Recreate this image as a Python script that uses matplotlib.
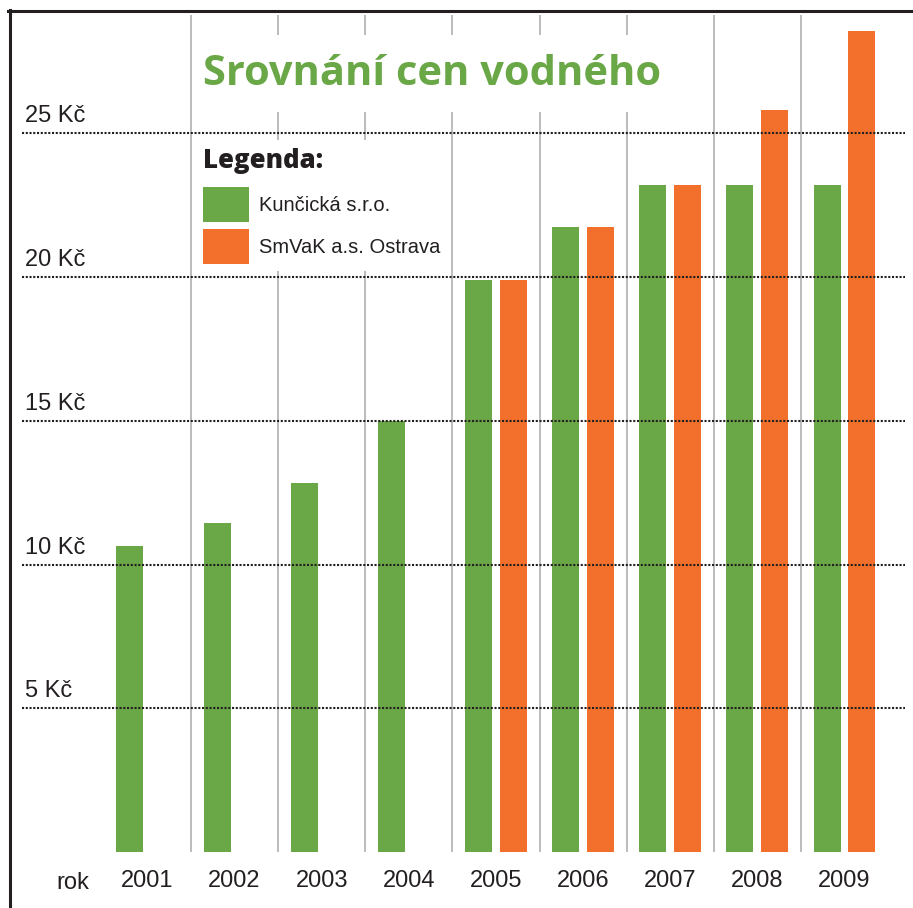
import numpy as np
import matplotlib.pyplot as plt
from matplotlib.lines import Line2D
from matplotlib.patches import Rectangle

# Data (Kč per m3)
years = ['2001', '2002', '2003', '2004', '2005', '2006', '2007', '2008', '2009']
kuncicka = [10.65, 11.45, 12.85, 15.0, 19.9, 21.75, 23.2, 23.2, 23.2]
smvak = [np.nan, np.nan, np.nan, np.nan, 19.9, 21.75, 23.2, 25.8, 28.55]
ytick_values = [5, 10, 15, 20, 25]
ytick_labels = ['5 Kč', '10 Kč', '15 Kč', '20 Kč', '25 Kč']

green = '#6aa746'
orange = '#f2702b'
dark = '#231f20'
W, H = 913, 908

plt.rcParams['font.family'] = ['Liberation Sans', 'DejaVu Sans']

fig = plt.figure(figsize=(W / 100, H / 100), dpi=100)

# axes placed in pixel terms: left frame at 10px, zero line at 852px
ax = fig.add_axes([10 / W, (H - 852) / H, 903 / W, 842 / H])
ax.set_xlim(-1.577, 8.786)
ax.set_ylim(0, 842 / 28.75)
for s in ax.spines.values():
    s.set_visible(False)

x = np.arange(len(years))
b1 = ax.bar(x - 0.2, kuncicka, width=0.31, color=green, label='Kunčická s.r.o.', zorder=2)
mask = ~np.isnan(smvak)
b2 = ax.bar(x[mask] + 0.2, np.array(smvak)[mask], width=0.31, color=orange,
            label='SmVaK a.s. Ostrava', zorder=2)

# gray separators between years
ax.vlines(x[:-1] + 0.5, 0, (852 - 15) / 28.75, color='#aaaaaa', lw=1.1, zorder=1)

# dotted price lines and their labels
for v, lab in zip(ytick_values, ytick_labels):
    ax.axhline(v, xmin=0.0133, xmax=0.991, color=dark, lw=1.5,
               linestyle=(0, (1, 0.8)), zorder=4)
    ax.text(0.0166, v + 0.38, lab, transform=ax.get_yaxis_transform(),
            fontsize=17, color=dark, va='baseline', ha='left')

ax.set_yticks([])
ax.set_xticks(x, years)
ax.tick_params(axis='x', length=0, pad=13, labelsize=17, labelcolor=dark)
ax.text(0.0875, -0.0238, 'rok', transform=ax.transAxes, fontsize=17,
        color=dark, ha='right', va='top')

# white areas behind the title and the legend hide the separators
fig.add_artist(Rectangle((195 / W, 1 - 112 / H), 490 / W, 77 / H,
                         transform=fig.transFigure, facecolor='white',
                         edgecolor='none', zorder=2))
fig.add_artist(Rectangle((194 / W, 1 - 271 / H), 250 / W, 131 / H,
                         transform=fig.transFigure, facecolor='white',
                         edgecolor='none', zorder=2))

fig.text(203 / W, 1 - 85 / H, 'Srovnání cen vodného', fontsize=30, fontweight='bold',
         family='Open Sans', color=green, ha='left', va='baseline', zorder=3)
fig.text(203 / W, 1 - 168 / H, 'Legenda:', fontsize=18.5, fontweight=800,
         family='Open Sans', color=dark, ha='left', va='baseline', zorder=3)

# legend
leg = fig.legend(handles=[b1, b2], loc='upper left',
                 bbox_to_anchor=(203 / W, 1 - 187 / H), bbox_transform=fig.transFigure,
                 borderaxespad=0, borderpad=0, fontsize=14.5,
                 handlelength=2.284, handleheight=2.3, labelspacing=0.348,
                 handletextpad=0.5, frameon=False)
for t in leg.get_texts():
    t.set_color(dark)
leg.set_zorder(4)

# frame: left and top black lines
fig.add_artist(Line2D([9.5 / W, 9.5 / W], [0, 1 - 10 / H], color=dark, lw=2.2))
fig.add_artist(Line2D([8 / W, 1], [1 - 11 / H, 1 - 11 / H], color=dark, lw=2.2))

fig.savefig('out.png', dpi=100)
